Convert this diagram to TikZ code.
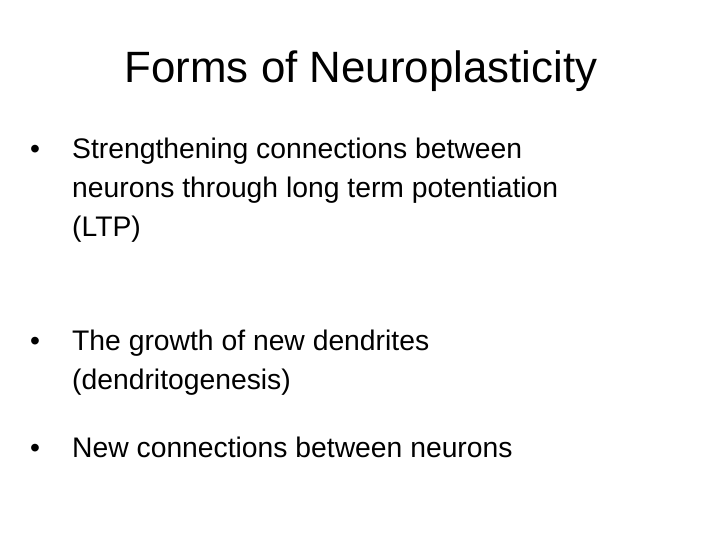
\documentclass[tikz,border=0pt]{standalone}
\usepackage{fontspec}
\setmainfont{Liberation Sans}
\begin{document}
\begin{tikzpicture}[x=1bp,y=-1bp,
  title/.style={anchor=base,inner sep=0pt,font=\fontsize{44}{52}\selectfont},
  body/.style={anchor=base west,inner sep=0pt,font=\fontsize{28.4}{34}\selectfont},
  bul/.style={anchor=base west,inner sep=0pt,font=\fontsize{28.4}{34}\selectfont}]
\useasboundingbox[fill=white] (0,0) rectangle (720,540);
\node[title] (t) at (361,83) {Forms of Neuroplasticity};
\node[bul] (b1) at (30,159) {•};
\node[body] (l1) at (72,159) {Strengthening connections between};
\node[body] (l2) at (72,198) {neurons through long term potentiation};
\node[body] (l3) at (72,237) {(LTP)};
\node[bul] (b2) at (30,350) {•};
\node[body] (l4) at (72,350) {The growth of new dendrites};
\node[body] (l5) at (72,389) {(dendritogenesis)};
\node[bul] (b3) at (30,457) {•};
\node[body] (l6) at (72,457) {New connections between neurons};
\end{tikzpicture}
\end{document}
